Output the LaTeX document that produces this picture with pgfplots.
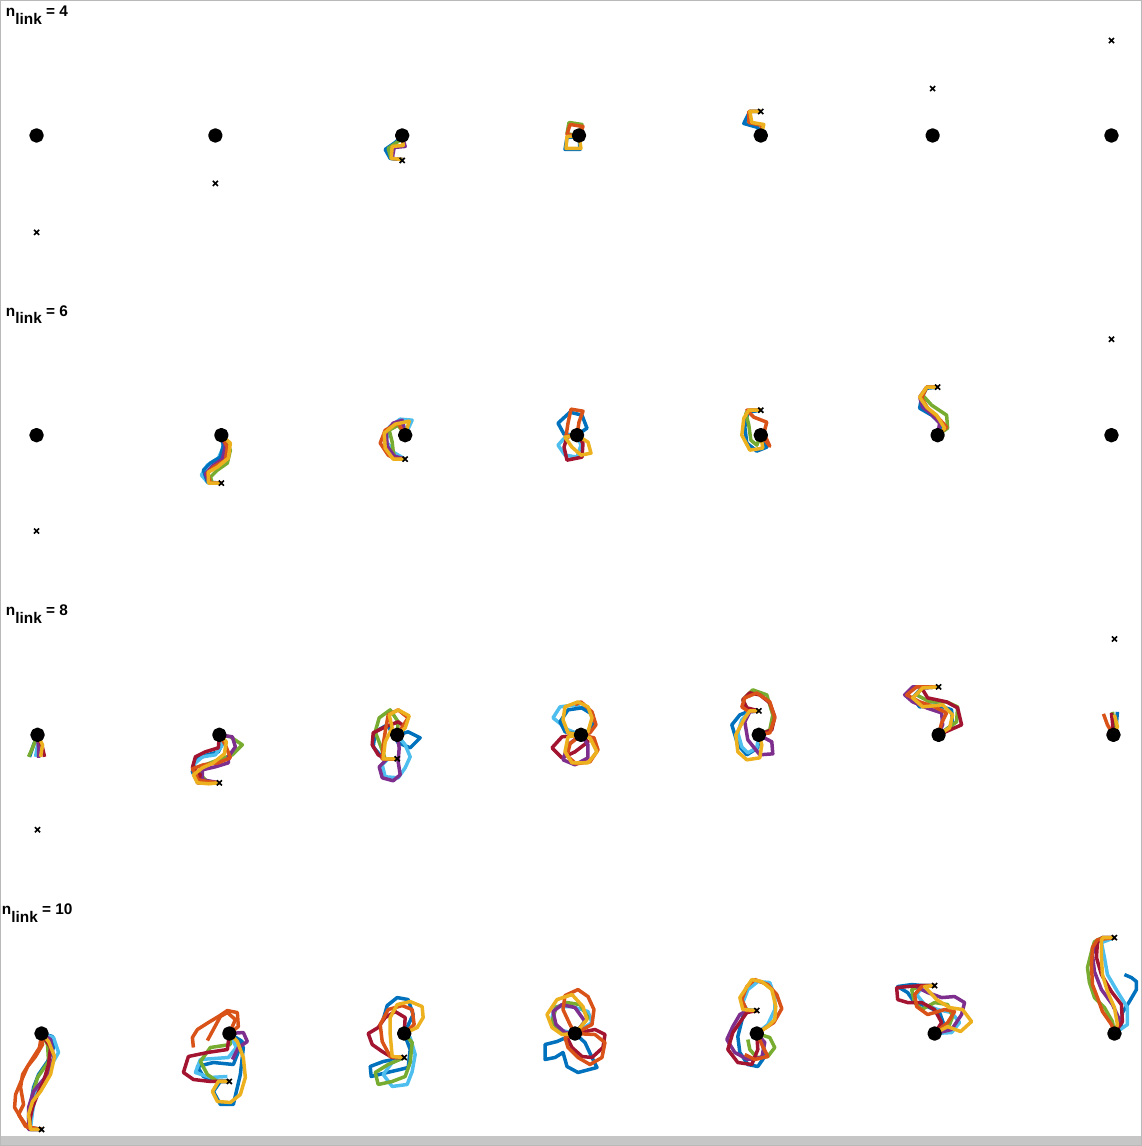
\documentclass[border=0pt]{standalone}
\usepackage{pgfplots}
\pgfplotsset{compat=1.18}
\usepackage{fontspec}
\setmainfont{Liberation Sans}
\definecolor{cB}{RGB}{0,114,189}
\definecolor{cO}{RGB}{217,83,25}
\definecolor{cY}{RGB}{237,177,32}
\definecolor{cP}{RGB}{126,47,142}
\definecolor{cG}{RGB}{119,172,48}
\definecolor{cL}{RGB}{77,190,238}
\definecolor{cR}{RGB}{162,20,47}
\newcommand{\nlab}[1]{\fontsize{7.7}{9}\selectfont\bfseries n\raisebox{-3.8pt}{link} = #1}
\begin{document}
\begin{tikzpicture}
\begin{axis}[
  width=571pt, height=573pt, scale only axis,
  xmin=0, xmax=1142, ymin=0, ymax=1146, y dir=reverse,
  axis line style={draw=gray!55, line width=0.6pt},
  xtick=\empty, ytick=\empty,
  clip=false,
  every axis plot/.append style={line width=1.75pt, line join=round, mark=none},
]
\fill[gray!45] (axis cs:0,1137) rectangle (axis cs:1142,1146);
% ===== Row 1 (n=4)
\addplot[cB] coordinates {(402,136) (395,142) (385,149) (390,158) (402,159)};
\addplot[cG] coordinates {(402,136) (398,141) (388,148) (391,158) (402,159)};
\addplot[cP] coordinates {(402,136) (405,146) (394,147) (392,158) (402,159)};
\addplot[cY] coordinates {(402,136) (403,145) (392,146) (391,158) (402,159)};
\addplot[cB] coordinates {(579,136) (580,149) (565,149) (567,137) (579,136)};
\addplot[cG] coordinates {(579,136) (582,124) (569,122) (567,133) (579,136)};
\addplot[cO] coordinates {(579,136) (583,126) (570,124) (567,134) (579,136)};
\addplot[cY] coordinates {(579,136) (581,148) (566,148) (567,136) (579,136)};
\addplot[cB] coordinates {(761,136) (758,127) (744,123) (750,111) (761,111)};
\addplot[cO] coordinates {(761,136) (762,125) (749,122) (749,111) (761,111)};
\addplot[cY] coordinates {(761,136) (764,124) (752,122) (750,111) (761,111)};
% ===== Row 2 (n=6)
\addplot[cL] coordinates {(221,435) (223,447) (218,458) (207,465) (201,475) (208,483) (221,483)};
\addplot[cB] coordinates {(221,435) (223,445) (220,457) (210,463) (203,470) (207,482) (221,483)};
\addplot[cG] coordinates {(221,435) (230,450) (227,463) (217,470) (210,477) (212,483) (221,483)};
\addplot[cP] coordinates {(221,435) (225,446) (222,459) (212,466) (205,474) (209,483) (221,483)};
\addplot[cO] coordinates {(221,435) (227,447) (225,460) (213,467) (207,473) (210,483) (221,483)};
\addplot[cY] coordinates {(221,435) (230,443) (228,458) (217,467) (208,472) (208,483) (221,483)};
\addplot[cB] coordinates {(405,435) (403,423) (390,427) (385,440) (392,450) (395,459) (405,459)};
\addplot[cL] coordinates {(405,435) (412,420) (400,419) (389,427) (386,441) (393,452) (405,459)};
\addplot[cG] coordinates {(405,435) (398,425) (389,430) (392,442) (393,451) (395,459) (405,459)};
\addplot[cP] coordinates {(405,435) (402,420) (393,423) (386,432) (387,446) (394,456) (405,459)};
\addplot[cO] coordinates {(405,435) (398,423) (385,430) (380,443) (388,455) (395,459) (405,459)};
\addplot[cY] coordinates {(405,435) (409,421) (395,424) (384,433) (385,448) (393,459) (405,459)};
\addplot[cB] coordinates {(577,435) (587,428) (582,415) (570,412) (558,423) (564,434) (577,435)};
\addplot[cL] coordinates {(577,435) (567,435) (558,445) (565,455) (577,457) (581,445) (577,435)};
\addplot[cR] coordinates {(577,435) (583,443) (582,457) (567,460) (564,447) (567,437) (577,435)};
\addplot[cO] coordinates {(577,435) (579,422) (583,411) (571,409) (568,423) (566,436) (577,435)};
\addplot[cY] coordinates {(577,435) (565,437) (572,447) (581,455) (591,453) (588,442) (577,435)};
\addplot[cB] coordinates {(761,435) (767,447) (757,451) (747,443) (745,427) (748,412) (761,410)};
\addplot[cG] coordinates {(761,435) (757,445) (751,440) (749,425) (746,413) (750,410) (761,410)};
\addplot[cO] coordinates {(761,435) (770,446) (764,433) (767,422) (754,417) (747,410) (761,410)};
\addplot[cY] coordinates {(761,435) (763,448) (750,450) (742,435) (744,418) (749,410) (761,410)};
\addplot[cB] coordinates {(938,435) (943,425) (932,415) (920,408) (922,397) (927,388) (938,387)};
\addplot[cG] coordinates {(938,435) (948,428) (947,415) (932,405) (923,395) (927,387) (938,387)};
\addplot[cP] coordinates {(938,435) (940,423) (930,412) (923,407) (920,397) (927,387) (938,387)};
\addplot[cO] coordinates {(938,435) (947,427) (938,417) (928,408) (922,398) (927,387) (938,387)};
\addplot[cY] coordinates {(938,435) (945,428) (937,415) (927,407) (920,397) (927,387) (938,387)};
% ===== Row 3 (n=8)
\addplot[cB] coordinates {(37,735) (33,745) (29,757)};
\addplot[cL] coordinates {(37,735) (37,745) (35,757)};
\addplot[cG] coordinates {(37,735) (32,748) (28,757)};
\addplot[cP] coordinates {(37,735) (38,748) (38,758)};
\addplot[cR] coordinates {(37,735) (42,748) (44,757)};
\addplot[cY] coordinates {(37,735) (42,745) (40,757)};
\addplot[cB] coordinates {(219,735) (223,742) (218,752) (207,755) (195,760) (192,772) (197,782) (208,783) (219,783)};
\addplot[cL] coordinates {(219,735) (222,745) (215,755) (202,757) (193,765) (195,777) (205,782) (219,783)};
\addplot[cG] coordinates {(219,735) (230,737) (242,745) (232,755) (218,760) (205,765) (200,775) (208,783) (219,783)};
\addplot[cP] coordinates {(219,735) (232,737) (235,747) (228,757) (228,763) (215,767) (202,770) (202,780) (219,783)};
\addplot[cR] coordinates {(219,735) (218,748) (205,752) (195,757) (192,768) (200,775) (197,783) (219,783)};
\addplot[cO] coordinates {(219,735) (225,745) (230,758) (218,763) (203,765) (192,769) (198,780) (208,782) (219,783)};
\addplot[cY] coordinates {(219,735) (226,742) (224,754) (213,763) (202,768) (193,775) (197,783) (208,784) (219,783)};
\addplot[cB] coordinates {(397,735) (408,732) (420,738) (410,748) (398,743) (387,725) (375,732) (373,747) (383,759) (397,759)};
\addplot[cL] coordinates {(397,735) (405,745) (410,757) (405,768) (398,778) (385,777) (382,765) (388,759) (397,759)};
\addplot[cP] coordinates {(397,735) (399,748) (398,762) (400,775) (393,781) (382,778) (379,767) (387,759) (397,759)};
\addplot[cG] coordinates {(397,735) (398,722) (390,710) (379,718) (375,732) (380,745) (385,759) (397,759)};
\addplot[cR] coordinates {(397,735) (405,727) (398,722) (385,727) (373,733) (372,745) (378,755) (385,759) (397,759)};
\addplot[cO] coordinates {(397,735) (408,718) (398,710) (388,715) (385,732) (383,745) (382,759) (397,759)};
\addplot[cY] coordinates {(397,735) (405,728) (409,716) (398,710) (389,715) (392,728) (385,742) (383,759) (397,759)};
\addplot[cL] coordinates {(581,735) (568,730) (553,718) (560,707) (575,705) (590,712) (594,722) (590,732) (581,735)};
\addplot[cB] coordinates {(581,735) (593,728) (593,715) (582,708) (568,710) (560,722) (565,732) (581,735)};
\addplot[cR] coordinates {(581,735) (562,737) (552,748) (562,758) (575,752) (588,742) (581,735)};
\addplot[cP] coordinates {(581,735) (568,745) (563,760) (575,765) (588,758) (588,745) (581,735)};
\addplot[cO] coordinates {(581,735) (594,738) (598,750) (590,762) (576,764) (567,756) (570,744) (581,735)};
\addplot[cO] coordinates {(581,735) (590,733) (596,725) (592,712) (581,702) (575,705)};
\addplot[cY] coordinates {(581,735) (568,733) (563,720) (565,707) (578,702) (588,707) (592,718) (588,732) (581,735)};
\addplot[cY] coordinates {(581,735) (568,737) (565,752) (572,763) (588,763) (597,752) (590,738) (581,735)};
\addplot[cB] coordinates {(759,735) (758,748) (747,755) (738,745) (732,725) (740,715) (750,711) (759,711)};
\addplot[cL] coordinates {(759,735) (757,748) (748,753) (742,747) (738,733) (742,720) (750,712) (759,711)};
\addplot[cG] coordinates {(759,735) (770,730) (773,715) (767,695) (753,690) (743,700) (748,710) (759,711)};
\addplot[cP] coordinates {(759,735) (772,742) (773,754) (760,755) (748,740) (745,722) (750,712) (759,711)};
\addplot[cR] coordinates {(759,735) (772,730) (775,717) (770,703) (760,695) (750,693) (743,700) (747,708) (759,711)};
\addplot[cO] coordinates {(759,735) (770,733) (775,718) (770,702) (757,693) (745,698) (742,707) (748,711) (759,711)};
\addplot[cY] coordinates {(759,735) (762,745) (760,758) (747,760) (738,752) (736,735) (745,718) (750,711) (759,711)};
\addplot[cB] coordinates {(939,735) (953,725) (952,710) (937,705) (920,707) (913,698) (922,688) (939,687)};
\addplot[cG] coordinates {(939,735) (957,722) (958,707) (947,702) (930,702) (917,695) (923,687) (939,687)};
\addplot[cP] coordinates {(939,735) (943,725) (942,713) (927,708) (913,702) (905,695) (913,687) (939,687)};
\addplot[cR] coordinates {(939,735) (962,725) (958,708) (947,702) (928,698) (922,688) (939,687)};
\addplot[cO] coordinates {(939,735) (942,723) (947,713) (935,707) (920,702) (907,695) (917,687) (939,687)};
\addplot[cY] coordinates {(939,735) (950,728) (953,715) (943,705) (923,707) (913,698) (923,688) (939,687)};
\addplot[cB] coordinates {(1114,735) (1117,723) (1118,712)};
\addplot[cG] coordinates {(1114,735) (1115,725) (1113,712)};
\addplot[cR] coordinates {(1114,735) (1113,722) (1112,713)};
\addplot[cO] coordinates {(1114,735) (1108,725) (1104,714)};
\addplot[cY] coordinates {(1114,735) (1118,727) (1115,715)};
% ===== Row 4 (n=10)
\addplot[cB] coordinates {(41,1034) (52,1037) (53,1048) (47,1062) (38,1075) (33,1088) (30,1105) (28,1118) (30,1130) (41,1130)};
\addplot[cL] coordinates {(41,1034) (53,1038) (58,1053) (50,1067) (42,1082) (35,1095) (32,1112) (30,1128) (41,1130)};
\addplot[cG] coordinates {(41,1034) (47,1045) (48,1062) (37,1078) (32,1095) (30,1112) (29,1130) (41,1130)};
\addplot[cP] coordinates {(41,1034) (50,1040) (53,1058) (47,1075) (33,1092) (28,1108) (28,1130) (41,1130)};
\addplot[cR] coordinates {(41,1034) (50,1048) (48,1065) (43,1082) (37,1095) (32,1108) (29,1122) (30,1130) (41,1130)};
\addplot[cO] coordinates {(41,1034) (42,1045) (35,1057) (27,1067) (20,1083) (15,1095) (14,1108) (20,1118) (27,1128) (41,1130)};
\addplot[cO] coordinates {(41,1034) (39,1048) (30,1062) (22,1075) (20,1088) (23,1105) (18,1115) (25,1127) (41,1130)};
\addplot[cY] coordinates {(41,1034) (48,1042) (54,1057) (50,1075) (40,1092) (32,1102) (28,1115) (30,1130) (41,1130)};
\addplot[cB] coordinates {(229,1034) (242,1042) (233,1065) (213,1063) (197,1067) (203,1077) (217,1082) (229,1082)};
\addplot[cB] coordinates {(229,1034) (243,1048) (240,1075) (233,1105) (220,1105) (213,1092) (220,1082) (229,1082)};
\addplot[cL] coordinates {(229,1034) (236,1048) (228,1058) (200,1060) (195,1073) (210,1078) (227,1077)};
\addplot[cG] coordinates {(229,1034) (230,1045) (210,1048) (200,1062) (207,1075) (217,1082) (229,1082)};
\addplot[cP] coordinates {(229,1034) (243,1033) (247,1042) (238,1048) (232,1060)};
\addplot[cR] coordinates {(229,1034) (227,1050) (207,1053) (188,1057) (183,1073) (193,1080) (210,1082) (229,1082)};
\addplot[cO] coordinates {(229,1034) (238,1027) (237,1013) (227,1011) (218,1017) (208,1023) (197,1030) (192,1038) (193,1048)};
\addplot[cO] coordinates {(229,1034) (235,1020) (227,1013) (220,1017) (207,1041)};
\addplot[cY] coordinates {(229,1034) (237,1042) (243,1058) (245,1078) (240,1095) (230,1103) (217,1102) (212,1092) (218,1082) (229,1082)};
\addplot[cB] coordinates {(404,1034) (410,1050) (408,1068) (400,1070) (387,1073) (371,1077) (370,1067) (383,1062) (404,1058)};
\addplot[cB] coordinates {(404,1034) (413,1015) (408,1000) (397,998) (387,1006) (383,1020)};
\addplot[cL] coordinates {(404,1034) (410,1038) (415,1055) (412,1072) (407,1085) (392,1087) (383,1075) (392,1063) (404,1058)};
\addplot[cG] coordinates {(404,1034) (412,1043) (410,1063) (405,1077) (392,1082) (378,1085) (375,1073) (388,1065) (404,1058)};
\addplot[cR] coordinates {(404,1034) (405,1018) (395,1012) (385,1018) (378,1028) (368,1034) (372,1045) (382,1052) (392,1058) (404,1058)};
\addplot[cO] coordinates {(404,1034) (414,1025) (412,1010) (402,1006) (388,1010) (380,1025) (382,1042) (390,1057) (404,1058)};
\addplot[cY] coordinates {(404,1034) (417,1028) (423,1018) (422,1007) (410,1002) (397,1005) (390,1018) (390,1035) (392,1057) (404,1058)};
\addplot[cB] coordinates {(575,1034) (585,1043) (592,1058) (597,1068) (578,1073) (567,1067) (563,1053) (555,1058) (545,1060) (545,1045) (557,1042) (575,1034)};
\addplot[cL] coordinates {(575,1034) (592,1023) (588,1012) (572,1007) (555,1007) (552,1018) (558,1030) (575,1034)};
\addplot[cG] coordinates {(575,1034) (588,1018) (580,1005) (567,1003) (556,1008) (552,1022) (560,1033) (575,1034)};
\addplot[cP] coordinates {(575,1034) (585,1022) (575,1008) (562,1005) (553,1012) (556,1025) (565,1033) (575,1034)};
\addplot[cR] coordinates {(575,1034) (595,1030) (605,1035) (603,1048) (592,1058) (582,1057) (572,1048) (567,1038) (575,1034)};
\addplot[cO] coordinates {(575,1034) (595,1035) (605,1043) (602,1058) (590,1065) (578,1058) (568,1048) (565,1038) (575,1034)};
\addplot[cO] coordinates {(575,1034) (592,1025) (594,1010) (588,997) (578,990) (565,996) (563,1010) (570,1025) (575,1034)};
\addplot[cY] coordinates {(575,1034) (587,1020) (583,1007) (572,995) (557,1000) (547,1015) (552,1028) (562,1035) (575,1034)};
\addplot[cB] coordinates {(757,1034) (763,1045) (765,1057) (758,1067) (748,1065) (740,1053) (738,1037) (743,1017) (748,1011) (757,1011)};
\addplot[cL] coordinates {(757,1034) (768,1025) (775,1010) (775,997) (770,983) (758,982) (748,990) (743,1003) (747,1010) (757,1011)};
\addplot[cG] coordinates {(757,1034) (770,1038) (775,1048) (768,1057) (757,1058) (750,1050) (748,1040)};
\addplot[cP] coordinates {(757,1034) (765,1043) (762,1058) (748,1060) (735,1053) (727,1040) (733,1027) (740,1015) (747,1011) (757,1011)};
\addplot[cR] coordinates {(757,1034) (758,1050) (752,1065) (738,1063) (728,1050) (733,1033) (742,1020) (747,1013) (757,1011)};
\addplot[cO] coordinates {(757,1034) (774,1023) (782,1009) (777,995) (768,985) (755,980) (747,987) (742,1000) (747,1011) (757,1011)};
\addplot[cO] coordinates {(757,1034) (763,1047) (768,1057) (755,1060) (745,1055)};
\addplot[cY] coordinates {(757,1034) (768,1027) (775,1020) (776,1007) (772,990) (762,982) (752,980) (740,998) (743,1010) (757,1011)};
\addplot[cB] coordinates {(935,1034) (945,1027) (940,1013) (928,1007) (915,1003) (908,993) (898,987) (912,985) (923,986) (935,986)};
\addplot[cL] coordinates {(935,1034) (952,1033) (960,1023) (952,1013) (938,1010) (925,1005) (917,995) (923,987) (935,986)};
\addplot[cG] coordinates {(935,1034) (948,1030) (953,1017) (948,1005) (935,1003) (922,1010) (915,1003) (912,990) (923,986) (935,986)};
\addplot[cP] coordinates {(935,1034) (952,1030) (962,1015) (965,1003) (955,997) (942,998) (928,993) (918,988) (923,986) (935,986)};
\addplot[cR] coordinates {(935,1034) (942,1023) (935,1010) (922,1003) (908,1003) (898,1000) (897,988) (908,987) (923,986) (935,986)};
\addplot[cO] coordinates {(935,1034) (948,1023) (955,1012) (945,1010) (928,1015) (917,1007) (915,995) (922,987) (935,986)};
\addplot[cY] coordinates {(935,1034) (948,1027) (961,1032) (972,1022) (963,1010) (950,1008) (937,1000) (925,987) (935,986)};
\addplot[cB] coordinates {(1115,1034) (1122,1025) (1123,1013) (1130,1002) (1137,990) (1137,982) (1132,978) (1125,975)};
\addplot[cL] coordinates {(1115,1034) (1128,1025) (1128,1008) (1118,992) (1108,975) (1105,958) (1102,943) (1115,938)};
\addplot[cG] coordinates {(1115,1034) (1113,1022) (1105,1008) (1095,998) (1090,983) (1088,968) (1092,952) (1095,942) (1103,938) (1115,938)};
\addplot[cP] coordinates {(1115,1034) (1120,1020) (1113,1005) (1102,990) (1095,972) (1093,955) (1096,945) (1103,938) (1115,938)};
\addplot[cR] coordinates {(1115,1034) (1123,1022) (1122,1005) (1112,992) (1102,975) (1097,958) (1098,942) (1103,938) (1115,938)};
\addplot[cO] coordinates {(1115,1034) (1112,1025) (1103,1012) (1098,998) (1093,985) (1092,965) (1093,948) (1098,940) (1115,938)};
\addplot[cY] coordinates {(1115,1034) (1118,1025) (1115,1008) (1108,992) (1103,975) (1102,958) (1102,942) (1103,938) (1115,938)};
% ===== targets
\addplot[only marks, mark=x, mark size=1.8pt, black, mark options={line width=0.8pt}] coordinates {
(36,232) (215,183) (402,160) (579,135) (761,111) (933,88) (1112,40)
(36,531) (221,483) (405,459) (577,435) (761,410) (938,387) (1112,339)
(37,830) (219,783) (397,759) (581,735) (759,711) (939,687) (1115,639)
(41,1130) (229,1082) (404,1058) (575,1034) (757,1011) (935,986) (1115,938)};
% ===== bases
\addplot[only marks, mark=*, mark size=2.75pt, black] coordinates {
(36,135) (215,135) (402,135) (579,135) (761,135) (933,135) (1112,135)
(36,435) (221,435) (405,435) (577,435) (761,435) (938,435) (1112,435)
(37,735) (219,735) (397,735) (581,735) (759,735) (939,735) (1114,735)
(41,1034) (229,1034) (404,1034) (575,1034) (757,1034) (935,1034) (1115,1034)};
\node[anchor=base west, inner sep=0pt] at (axis cs:5,16) {\nlab{4}};
\node[anchor=base west, inner sep=0pt] at (axis cs:5,316) {\nlab{6}};
\node[anchor=base west, inner sep=0pt] at (axis cs:5,616) {\nlab{8}};
\node[anchor=base west, inner sep=0pt] at (axis cs:1,915) {\nlab{10}};
\end{axis}
\end{tikzpicture}
\end{document}
